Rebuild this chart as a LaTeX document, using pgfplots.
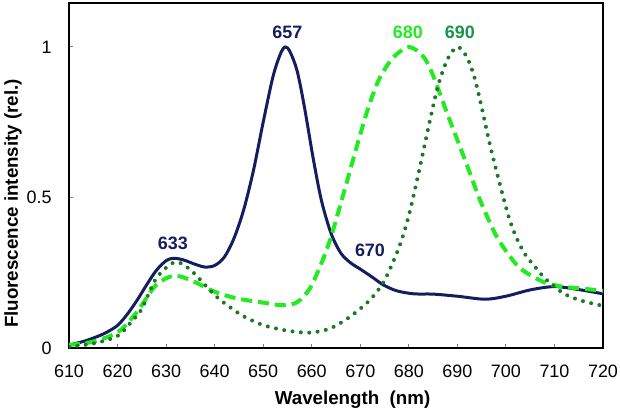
\documentclass[border=0pt]{standalone}
\usepackage{pgfplots}
\pgfplotsset{compat=1.18}
\usepackage{fontspec}
\setmainfont{Liberation Sans}
\definecolor{navyline}{RGB}{20,30,95}
\definecolor{limeline}{RGB}{35,235,35}
\definecolor{dotgreen}{RGB}{25,122,35}
\definecolor{tealtxt}{RGB}{25,150,75}
\begin{document}
\begin{tikzpicture}
\useasboundingbox (-34.5bp,-31.5bp) rectangle (275.5bp,174bp);
\begin{axis}[
  scale only axis, width=267bp, height=172.5bp,
  xmin=610, xmax=720, ymin=0, ymax=1.146,
  xtick={610,620,...,720}, ytick={0,0.5,1},
  tick pos=left, tick align=inside, major tick length=2bp,
  tick style={gray, line width=0.5bp},
  axis line style={line width=1bp},
  /pgf/number format/assume math mode=true,
  ticklabel style={font=\fontsize{9}{11}\selectfont},
  xticklabel style={anchor=center, inner sep=0pt, yshift=-11.5bp},
  yticklabel style={anchor=east, inner sep=0pt, xshift=-8.5bp},
  label style={font=\fontsize{9.4}{11}\selectfont\bfseries},
  xlabel={Wavelength\ \ (nm)},
  ylabel={Fluorescence intensity (rel.)},
  xlabel style={at={(rel axis cs:0.531,-0.151)}, anchor=center},
  ylabel style={at={(rel axis cs:-0.105,0.419)}, anchor=center},
]
% 657 band
\addplot[navyline, line width=1.5bp, smooth] coordinates {
(610,0.01) (613,0.022) (615.5,0.036) (617.5,0.05) (620,0.075) (622,0.112)
(624,0.158) (626,0.21) (628,0.258) (630,0.29) (631.5,0.298) (633.5,0.293)
(636,0.278) (638,0.269) (640,0.274) (642,0.302) (644,0.365) (646,0.46)
(648,0.59) (650,0.75) (652,0.90) (653.5,0.975) (654.5,1.0) (655.5,0.985)
(657,0.92) (658.5,0.80) (660.3,0.63) (662,0.49) (664,0.38) (666,0.315)
(668,0.283) (670,0.262) (672.5,0.235) (674.7,0.21) (677.5,0.19) (681,0.18)
(685,0.179) (690,0.172) (695.7,0.162) (700,0.172) (705,0.193) (710,0.204)
(715,0.194) (720,0.18)
};
% 680 band
\addplot[limeline, line width=2bp, dash pattern=on 5.5bp off 3bp, smooth] coordinates {
(610,0.01) (615,0.021) (620,0.052) (623,0.1) (625,0.143) (628,0.21)
(631.5,0.24) (635,0.226) (640,0.187) (644.5,0.165) (649.5,0.152) (654,0.142)
(657,0.152) (659.5,0.195) (661.7,0.27) (663.8,0.36) (665.8,0.47) (667.9,0.59)
(670,0.71) (672,0.815) (674.1,0.9) (676.8,0.965) (680,1.0) (683,0.968)
(685,0.905) (688,0.775) (690.5,0.67) (692.5,0.585) (694.7,0.49) (698.1,0.37)
(701.5,0.29) (703.5,0.258) (705.6,0.237) (708.4,0.215) (712,0.203) (715.3,0.198)
(720,0.19)
};
% 690 band
\addplot[dotgreen, line width=2bp, line cap=round, dash pattern=on 0bp off 4.2bp, smooth] coordinates {
(610,0.004) (615,0.015) (620,0.04) (623,0.09) (625,0.13) (628,0.232) (631.8,0.285)
(635,0.26) (640,0.176) (643.2,0.135) (646,0.105) (650,0.076) (654.8,0.058)
(659.6,0.051) (663.8,0.065) (667.9,0.104) (672,0.16) (675,0.225) (678,0.335)
(680,0.44) (682,0.58) (684,0.73) (686,0.87) (688,0.96) (690,1.0)
(691.9,0.968) (693.5,0.9) (695,0.8) (696.5,0.69) (698.1,0.585) (700.5,0.44)
(702.2,0.365) (704,0.31) (706,0.27) (708,0.232) (711.1,0.19) (713,0.172)
(716,0.155) (720,0.14)
};
\begin{scope}[every node/.style={font=\fontsize{9}{11}\selectfont\bfseries}]
\node[text=navyline] at (axis cs:655,1.05) {657};
\node[text=navyline] at (axis cs:631.4,0.347) {633};
\node[text=navyline] at (axis cs:672,0.326) {670};
\node[text=limeline] at (axis cs:679.8,1.048) {680};
\node[text=tealtxt] at (axis cs:690.5,1.048) {690};
\end{scope}
\end{axis}
\end{tikzpicture}
\end{document}
